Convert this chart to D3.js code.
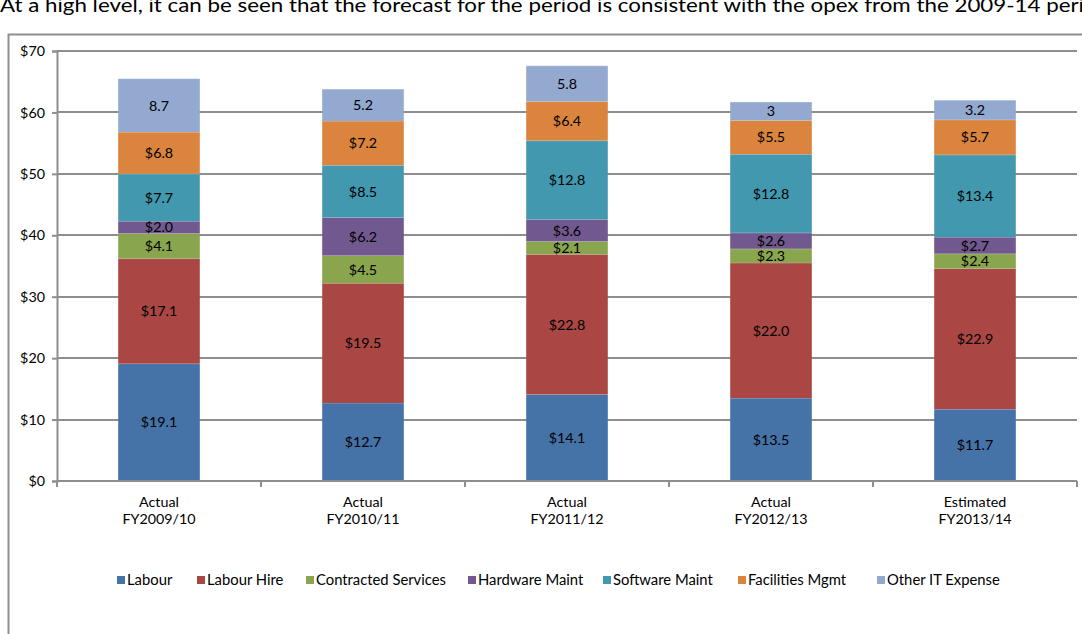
<!DOCTYPE html>
<html>
<head>
<meta charset="utf-8">
<script src="https://cdn.jsdelivr.net/npm/d3@7"></script>
<style>
  html, body { margin: 0; padding: 0; background: #fff; }
  svg { display: block; font-family: Lato, "Open Sans", sans-serif; }
</style>
</head>
<body>
<svg id="chart" width="1082" height="634"></svg>
<script>
const categoriesTop = ["Actual", "Actual", "Actual", "Actual", "Estimated"];
const categoriesBottom = ["FY2009/10", "FY2010/11", "FY2011/12", "FY2012/13", "FY2013/14"];
const seriesNames = ["Labour", "Labour Hire", "Contracted Services", "Hardware Maint", "Software Maint", "Facilities Mgmt", "Other IT Expense"];
const labour = [19.1, 12.7, 14.1, 13.5, 11.7];
const labourHire = [17.1, 19.5, 22.8, 22.0, 22.9];
const contracted = [4.1, 4.5, 2.1, 2.3, 2.4];
const hardware = [2.0, 6.2, 3.6, 2.6, 2.7];
const software = [7.7, 8.5, 12.8, 12.8, 13.4];
const facilities = [6.8, 7.2, 6.4, 5.5, 5.7];
const otherIT = [8.7, 5.2, 5.8, 3, 3.2];
const yTicks = [0, 10, 20, 30, 40, 50, 60, 70];
const headline = "At a high level, it can be seen that the forecast for the period is consistent with the opex from the 2009-14 peri";

const colors = ["#4572A7", "#AA4643", "#89A54E", "#71588F", "#4198AF", "#DB843D", "#93A9CF"];
const seriesValues = [labour, labourHire, contracted, hardware, software, facilities, otherIT];

const svg = d3.select("#chart");
const W = 1082, H = 634;
const m = { left: 57, right: 1077, top: 51, bottom: 481 };
const lineCol = "#8e8e8e";
const FS = 14.3;

// headline (partially cut at top, as in the reference)
svg.append("text")
  .attr("x", 0).attr("y", 12)
  .attr("font-size", 18.5)
  .attr("fill", "#000")
  .attr("textLength", 1084)
  .attr("lengthAdjust", "spacingAndGlyphs")
  .text(headline);

// frame
svg.append("line").attr("x1", 8.5).attr("x2", 8.5).attr("y1", 34).attr("y2", H)
  .attr("stroke", lineCol).attr("stroke-width", 2);
svg.append("line").attr("x1", 8).attr("x2", W).attr("y1", 34.5).attr("y2", 34.5)
  .attr("stroke", lineCol).attr("stroke-width", 2);

const x = d3.scaleBand().domain(d3.range(categoriesTop.length))
  .range([m.left, m.right]).paddingInner(0.6).paddingOuter(0.3);
const y = d3.scaleLinear().domain([0, 70]).range([m.bottom, m.top]);

// gridlines
svg.append("g").selectAll("line").data(yTicks.filter(d => d > 0)).join("line")
  .attr("x1", m.left).attr("x2", m.right)
  .attr("y1", d => Math.round(y(d))).attr("y2", d => Math.round(y(d)))
  .attr("stroke", lineCol).attr("stroke-width", 2);

// y axis
const yAxis = d3.axisLeft(y).tickValues(yTicks).tickSize(5).tickPadding(7)
  .tickFormat(d => "$" + d);
const gy = svg.append("g").attr("transform", `translate(${m.left},0)`).call(yAxis);
gy.select(".domain").attr("stroke", lineCol).attr("stroke-width", 2);
gy.selectAll(".tick line").attr("stroke", lineCol).attr("stroke-width", 2);
gy.selectAll(".tick text").attr("font-size", FS).attr("fill", "#000")
  .attr("font-family", "Lato, sans-serif");

// stacked data
const table = categoriesTop.map((c, i) => {
  const o = { i };
  seriesNames.forEach((s, k) => o[s] = seriesValues[k][i]);
  return o;
});
const stack = d3.stack().keys(seriesNames)(table);

const gBars = svg.append("g");
stack.forEach((layer, k) => {
  const g = gBars.append("g").attr("fill", colors[k]);
  g.selectAll("rect").data(layer).join("rect")
    .attr("x", d => x(d.data.i))
    .attr("width", x.bandwidth())
    .attr("y", d => y(d[1]))
    .attr("height", d => y(d[0]) - y(d[1]));
  g.selectAll("line").data(layer).join("line")
    .attr("x1", d => x(d.data.i)).attr("x2", d => x(d.data.i) + x.bandwidth())
    .attr("y1", d => y(d[1])).attr("y2", d => y(d[1]))
    .attr("stroke", "#ffffff").attr("stroke-opacity", 0.35).attr("stroke-width", 1);
});

// labels
stack.forEach((layer, k) => {
  svg.append("g").selectAll("text").data(layer).join("text")
    .attr("x", d => x(d.data.i) + x.bandwidth() / 2)
    .attr("y", d => (y(d[0]) + y(d[1])) / 2)
    .attr("dy", "0.36em")
    .attr("text-anchor", "middle")
    .attr("font-size", FS)
    .attr("fill", "#000")
    .text(d => {
      const raw = seriesValues[k][d.data.i];
      return k === 6 ? String(raw) : "$" + raw.toFixed(1);
    });
});

// x axis
const gx = svg.append("g");
gx.append("line").attr("x1", m.left).attr("x2", m.right)
  .attr("y1", m.bottom).attr("y2", m.bottom)
  .attr("stroke", lineCol).attr("stroke-width", 2);
const boundaries = d3.range(categoriesTop.length + 1).map(i => m.left + i * (m.right - m.left) / categoriesTop.length);
gx.selectAll("line.tk").data(boundaries).join("line").attr("class", "tk")
  .attr("x1", d => Math.round(d)).attr("x2", d => Math.round(d))
  .attr("y1", m.bottom).attr("y2", m.bottom + 6)
  .attr("stroke", lineCol).attr("stroke-width", 2);
gx.selectAll("text.l1").data(categoriesTop).join("text").attr("class", "l1")
  .attr("x", (d, i) => x(i) + x.bandwidth() / 2).attr("y", 507)
  .attr("text-anchor", "middle").attr("font-size", FS).attr("fill", "#000")
  .text(d => d);
gx.selectAll("text.l2").data(categoriesBottom).join("text").attr("class", "l2")
  .attr("x", (d, i) => x(i) + x.bandwidth() / 2).attr("y", 524)
  .attr("text-anchor", "middle").attr("font-size", FS).attr("fill", "#000")
  .text(d => d);

// legend
const legendX = [117, 197, 306, 468, 603, 738, 877];
const lg = svg.append("g").selectAll("g").data(seriesNames).join("g")
  .attr("transform", (d, i) => `translate(${legendX[i]},580)`);
lg.append("rect").attr("x", 0).attr("y", -4).attr("width", 8).attr("height", 8)
  .attr("fill", (d, i) => colors[i]);
lg.append("text").attr("x", 10).attr("y", 0).attr("dy", "0.36em")
  .attr("font-size", FS + 0.5).attr("fill", "#000").text(d => d);
</script>
</body>
</html>
